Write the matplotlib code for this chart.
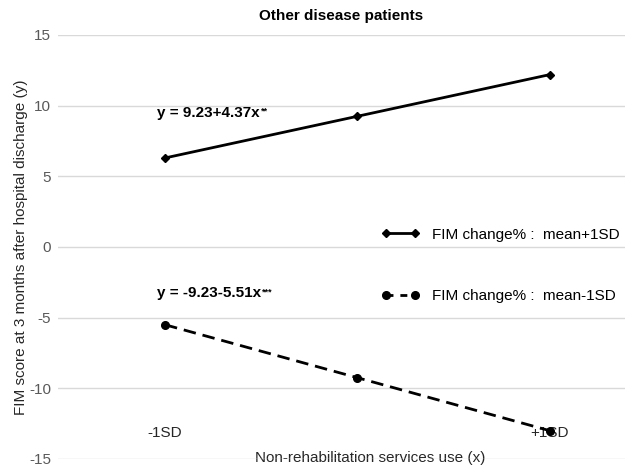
import matplotlib
matplotlib.use("Agg")
import matplotlib.pyplot as plt
from matplotlib.lines import Line2D

plt.rcParams['font.family'] = ['Liberation Sans', 'DejaVu Sans']

categories = ['-1SD', '', '+1SD']
upper = [6.3, 9.25, 12.2]
lower = [-5.5, -9.25, -13.0]
series_names = ['FIM change% :  mean+1SD', 'FIM change% :  mean-1SD']
eq_upper = 'y = 9.23+4.37x'
eq_upper_sig = '**'
eq_lower = 'y = -9.23-5.51x'
eq_lower_sig = '***'
yticks = [-15, -10, -5, 0, 5, 10, 15]

W, H = 630, 470
FS = 11
fig = plt.figure(figsize=(W / 100, H / 100), dpi=100)
ax = fig.add_axes([58 / W, 1 - 459 / H, (625 - 58) / W, (459 - 35) / H])

x = list(range(len(categories)))
ax.plot(x, upper, color='black', lw=2.0, marker='D', markersize=4.5,
        label=series_names[0], solid_capstyle='butt')
ax.plot(x, lower, color='black', lw=2.0, ls=(0, (4.5, 2.5)), marker='o',
        markersize=5.5, label=series_names[1])

ax.set_ylim(-15, 15)
ax.set_xlim(-0.556, 2.39)
ax.set_yticks(yticks)
ax.set_yticklabels([str(v) for v in yticks], color='#595959', fontsize=FS)
ax.yaxis.grid(True, color='#d9d9d9', lw=1)
ax.set_axisbelow(True)
for s in ax.spines.values():
    s.set_visible(False)
ax.tick_params(axis='y', length=0, pad=5)
ax.set_xticks(x)
ax.set_xticklabels(categories, fontsize=FS, color='#262626')
ax.tick_params(axis='x', length=0, pad=-24)

ax.set_ylabel('FIM score at 3 months after hospital discharge (y)', fontsize=FS,
              color='#262626')
ax.yaxis.set_label_coords(-0.053, 0.5)
ax.set_xlabel('Non-rehabilitation services use (x)', fontsize=FS, color='#262626')
ax.xaxis.set_label_coords(0.55, 0.02)

ax.set_title('Other disease patients', fontsize=FS, fontweight='bold', pad=11)

t1 = ax.text(-0.04, 9.48, eq_upper, fontsize=FS, fontweight='bold', va='center', ha='left')
t2 = ax.text(-0.04, -3.26, eq_lower, fontsize=FS, fontweight='bold', va='center', ha='left')
fig.canvas.draw()
for t, sig in ((t1, eq_upper_sig), (t2, eq_lower_sig)):
    bb = t.get_window_extent()
    fig.text(bb.x1 / W + 0.001, (bb.y1 - 1) / H, sig, fontsize=6.5, fontweight='bold',
             va='top', ha='left')

handles = [
    Line2D([], [], color='black', lw=2.0, marker='D', markersize=4.5),
    Line2D([], [], color='black', lw=2.0, ls=(0, (2.5, 2.5)), marker='o', markersize=5.5),
]
leg = ax.legend(handles, series_names, loc='upper left',
                bbox_to_anchor=((368 - 58) / 567, (459 - 214) / 424),
                frameon=False, fontsize=FS, handlelength=2.5, handletextpad=0.8,
                labelspacing=3.1, numpoints=2)

fig.savefig('out.png', dpi=100)
